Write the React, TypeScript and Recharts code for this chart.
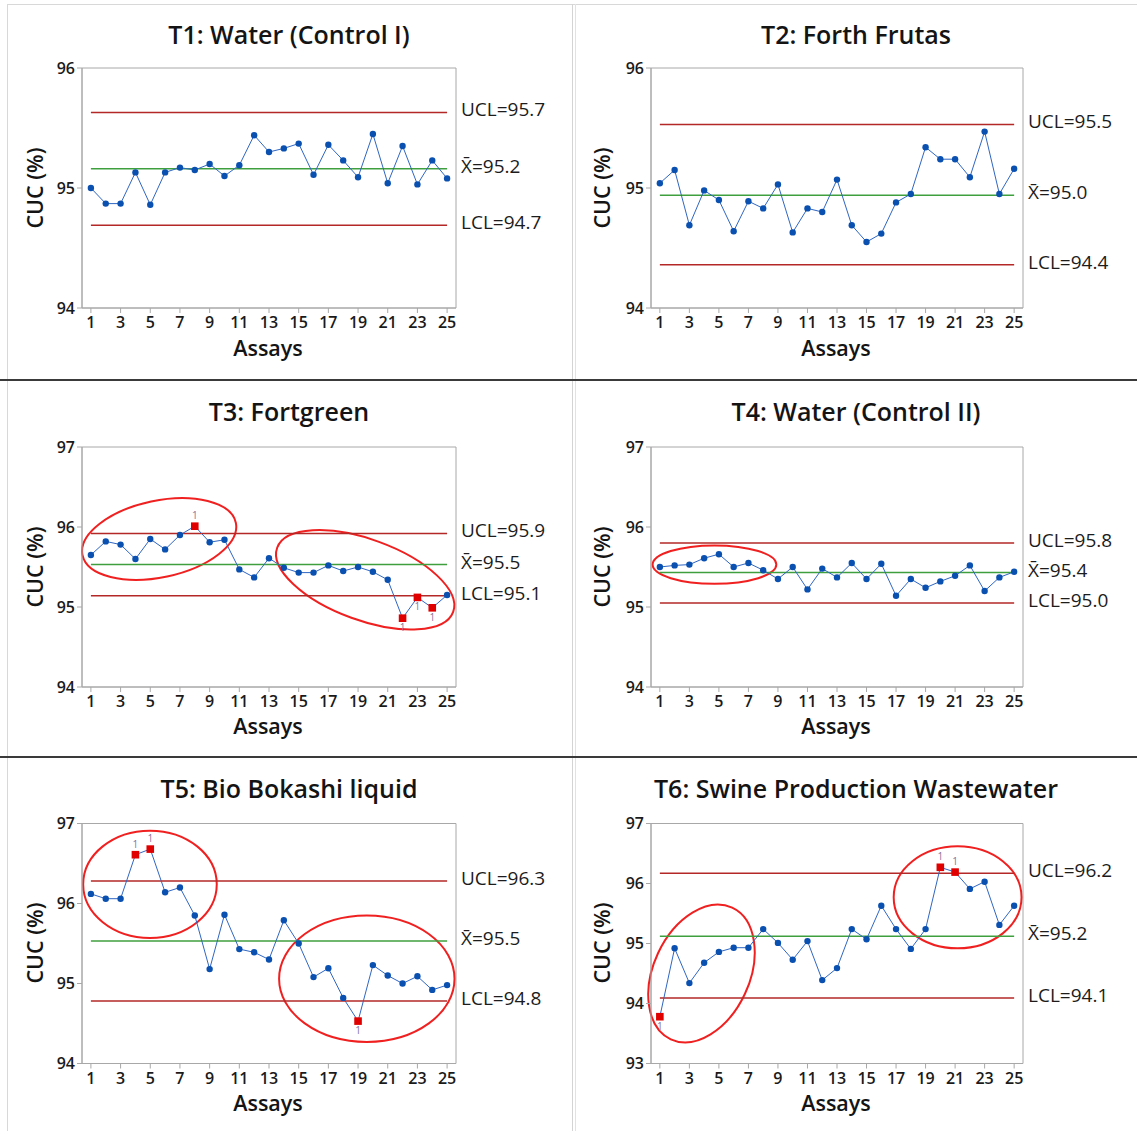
import React from 'react';
import { LineChart, Line, XAxis, YAxis, ReferenceLine, ReferenceArea } from 'recharts';

const assays = [1,2,3,4,5,6,7,8,9,10,11,12,13,14,15,16,17,18,19,20,21,22,23,24,25];
const xTicks = [1,3,5,7,9,11,13,15,17,19,21,23,25];

const t1Values = [95.00,94.87,94.87,95.13,94.86,95.13,95.17,95.15,95.20,95.10,95.19,95.44,95.30,95.33,95.37,95.11,95.36,95.23,95.09,95.45,95.04,95.35,95.03,95.23,95.08];
const t2Values = [95.04,95.15,94.69,94.98,94.90,94.64,94.89,94.83,95.03,94.63,94.83,94.80,95.07,94.69,94.55,94.62,94.88,94.95,95.34,95.24,95.24,95.09,95.47,94.95,95.16];
const t3Values = [95.65,95.82,95.78,95.60,95.85,95.72,95.90,96.01,95.81,95.84,95.47,95.37,95.61,95.49,95.43,95.43,95.52,95.45,95.50,95.44,95.34,94.86,95.12,94.99,95.15];
const t4Values = [95.50,95.52,95.53,95.61,95.66,95.50,95.55,95.46,95.35,95.50,95.22,95.48,95.37,95.55,95.35,95.54,95.14,95.35,95.24,95.32,95.39,95.52,95.20,95.37,95.44];
const t5Values = [96.12,96.06,96.06,96.61,96.68,96.14,96.20,95.85,95.18,95.86,95.43,95.39,95.30,95.79,95.50,95.08,95.19,94.82,94.53,95.23,95.10,95.00,95.09,94.92,94.98];
const t6Values = [93.78,94.92,94.34,94.68,94.86,94.93,94.93,95.24,95.01,94.73,95.04,94.39,94.59,95.24,95.07,95.63,95.24,94.91,95.24,96.27,96.19,95.91,96.03,95.31,95.63];

const t1Flags: number[] = [];
const t2Flags: number[] = [];
const t3Flags = [8,22,23,24];
const t4Flags: number[] = [];
const t5Flags = [4,5,19];
const t6Flags = [1,20,21];

// [UCL, mean, LCL] drawn positions and their printed labels
const t1Limits = [95.63, 95.16, 94.69];
const t2Limits = [95.53, 94.94, 94.36];
const t3Limits = [95.92, 95.53, 95.14];
const t4Limits = [95.80, 95.43, 95.05];
const t5Limits = [96.28, 95.53, 94.78];
const t6Limits = [96.17, 95.12, 94.09];
const t1LimitLabels = ['UCL=95.7', 'X̄=95.2', 'LCL=94.7'];
const t2LimitLabels = ['UCL=95.5', 'X̄=95.0', 'LCL=94.4'];
const t3LimitLabels = ['UCL=95.9', 'X̄=95.5', 'LCL=95.1'];
const t4LimitLabels = ['UCL=95.8', 'X̄=95.4', 'LCL=95.0'];
const t5LimitLabels = ['UCL=96.3', 'X̄=95.5', 'LCL=94.8'];
const t6LimitLabels = ['UCL=96.2', 'X̄=95.2', 'LCL=94.1'];

const titles = ['T1: Water (Control I)', 'T2: Forth Frutas', 'T3: Fortgreen', 'T4: Water (Control II)', 'T5: Bio Bokashi liquid', 'T6: Swine Production Wastewater'];
const yTicks12 = [94, 95, 96];
const yTicks345 = [94, 95, 96, 97];
const yTicks6 = [93, 94, 95, 96, 97];

// ellipses: center (assay, value), semi-axes in data units, rotation in degrees
const t3Ellipses = [{ cx: 5.6, cy: 95.85, rx: 5.28, ry: 0.48, angle: -12 }, { cx: 19.48, cy: 95.34, rx: 6.31, ry: 0.505, angle: 20 }];
const t4Ellipses = [{ cx: 4.7, cy: 95.53, rx: 4.19, ry: 0.24, angle: 0 }];
const t5Ellipses = [{ cx: 4.98, cy: 96.24, rx: 4.5, ry: 0.67, angle: 0 }, { cx: 19.59, cy: 95.06, rx: 5.91, ry: 0.79, angle: 0 }];
const t6Ellipses = [{ cx: 3.82, cy: 94.5, rx: 3.25, ry: 1.21, angle: 25 }, { cx: 21.17, cy: 95.77, rx: 4.33, ry: 0.85, angle: 0 }];

const FONT = '"Open Sans", "Noto Sans", sans-serif';
const BLUE = '#0a50b0';
const LINE_BLUE = '#2f66c2';
const RED_LIMIT = '#b52828';
const GREEN = '#3f9f3f';
const AXIS_GRAY = '#a8a8a8';

const RightLabel = (props: any) => {
  const { viewBox, text } = props;
  if (!viewBox) return null;
  const x = viewBox.x + viewBox.width + 5;
  const y = viewBox.y - 3;
  return (
    <text x={x} y={y} dominantBaseline="central" fill="#1c1c1c" fontSize={19} fontFamily={FONT}>
      {text}
    </text>
  );
};

const makeDot = (flags: number[], mean: number) => (p: any) => {
  const { cx, cy, payload, index } = p;
  if (cx == null || cy == null) return <g key={index} />;
  if (flags.includes(payload.assay)) {
    const above = payload.value > mean;
    return (
      <g key={index}>
        <rect x={cx - 3.8} y={cy - 3.8} width={7.6} height={7.6} fill="#e00000" />
        <text x={cx} y={above ? cy - 7 : cy + 13} textAnchor="middle" fontSize={10} fill="#86739a" fontFamily={FONT}>1</text>
      </g>
    );
  }
  return <circle key={index} cx={cx} cy={cy} r={3.2} fill={BLUE} />;
};

const EllipseShape = (angle: number) => (p: any) => {
  const { x, y, width, height } = p;
  if (x == null) return null;
  const cx = x + width / 2;
  const cy = y + height / 2;
  return (
    <ellipse cx={cx} cy={cy} rx={Math.abs(width) / 2} ry={Math.abs(height) / 2}
      transform={`rotate(${angle} ${cx} ${cy})`} fill="none" stroke="#f02020" strokeWidth={2} />
  );
};

type PanelProps = {
  left: number; top: number; width: number; height: number;
  mLeft: number; mRight: number; mTop: number; mBottom: number;
  values: number[]; flags: number[]; limits: number[]; limitLabels: string[];
  yDomain: [number, number]; yTicks: number[]; ellipses: any[];
};

const Panel = (pp: PanelProps) => {
  const data = assays.map((a, i) => ({ assay: a, value: pp.values[i] }));
  const colors = [RED_LIMIT, GREEN, RED_LIMIT];
  const tickStyle = { fill: '#1a1a1a', fontSize: 16, fontWeight: 600, fontFamily: FONT };
  return (
    <div style={{ position: 'absolute', left: pp.left, top: pp.top }}>
      <LineChart width={pp.width} height={pp.height} data={data}
        margin={{ top: pp.mTop, right: pp.mRight, bottom: pp.mBottom, left: pp.mLeft }}>
        <XAxis dataKey="assay" type="number" domain={[0.4, 25.6]} ticks={xTicks} interval={0}
          allowDataOverflow height={30} tickSize={5} tickMargin={4}
          axisLine={{ stroke: AXIS_GRAY }} tickLine={{ stroke: AXIS_GRAY }} tick={tickStyle} />
        <YAxis type="number" domain={pp.yDomain} ticks={pp.yTicks} interval={0} allowDataOverflow
          width={40} tickSize={5} tickMargin={2}
          axisLine={{ stroke: AXIS_GRAY }} tickLine={{ stroke: AXIS_GRAY }} tick={tickStyle} />
        <ReferenceArea x1={0.4} x2={25.6} y1={pp.yDomain[0]} y2={pp.yDomain[1]} fill="none" fillOpacity={0}
          stroke={AXIS_GRAY} strokeWidth={1} ifOverflow="visible" />
        {pp.limits.map((v, i) => (
          <ReferenceLine key={'seg' + i} segment={[{ x: 1, y: v }, { x: 25, y: v }]}
            stroke={colors[i]} strokeWidth={1.5} ifOverflow="visible" />
        ))}
        {pp.limits.map((v, i) => (
          <ReferenceLine key={'lab' + i} y={v} stroke="none" strokeOpacity={0}
            label={<RightLabel text={pp.limitLabels[i]} />} />
        ))}
        <Line dataKey="value" type="linear" stroke={LINE_BLUE} strokeWidth={1}
          dot={makeDot(pp.flags, pp.limits[1])} activeDot={false} isAnimationActive={false} />
        {pp.ellipses.map((e, i) => (
          <ReferenceArea key={'el' + i} x1={e.cx - e.rx} x2={e.cx + e.rx} y1={e.cy - e.ry} y2={e.cy + e.ry}
            ifOverflow="visible" shape={EllipseShape(e.angle)} />
        ))}
      </LineChart>
    </div>
  );
};

const Title = ({ text, cx, cy }: { text: string; cx: number; cy: number }) => (
  <div style={{ position: 'absolute', left: cx - 300, top: cy - 17, width: 600, height: 34, lineHeight: '34px',
    textAlign: 'center', fontFamily: FONT, fontWeight: 600, fontSize: 25, color: '#141414', whiteSpace: 'nowrap' }}>{text}</div>
);

const XLabel = ({ cx, cy }: { cx: number; cy: number }) => (
  <div style={{ position: 'absolute', left: cx - 100, top: cy - 15, width: 200, height: 30, lineHeight: '30px',
    textAlign: 'center', fontFamily: FONT, fontWeight: 600, fontSize: 21.5, color: '#141414' }}>Assays</div>
);

const YLabel = ({ cx, cy }: { cx: number; cy: number }) => (
  <div style={{ position: 'absolute', left: cx - 60, top: cy - 15, width: 120, height: 30, lineHeight: '30px',
    textAlign: 'center', fontFamily: FONT, fontWeight: 600, fontSize: 21.5, color: '#141414',
    transform: 'rotate(-90deg)', whiteSpace: 'nowrap' }}>CUC (%)</div>
);

export default function App() {
  const col1 = { left: 0, width: 573, mLeft: 42, mRight: 117 };
  const col2 = { left: 573, width: 564, mLeft: 38, mRight: 114 };
  const row1 = { top: 0, height: 380, mTop: 68, mBottom: 42 };
  const row2 = { top: 380, height: 377, mTop: 67, mBottom: 40 };
  const row3 = { top: 757, height: 374, mTop: 66.5, mBottom: 37.5 };
  return (
    <div style={{ position: 'absolute', left: 0, top: 0, width: 1137, height: 1131, background: '#ffffff', overflow: 'hidden' }}>
      {/* frame and dividers */}
      <div style={{ position: 'absolute', left: 7, top: 4, width: 1130, height: 1, background: '#d8d8d8' }} />
      <div style={{ position: 'absolute', left: 7, top: 4, width: 1, height: 1127, background: '#d8d8d8' }} />
      <div style={{ position: 'absolute', left: 572, top: 4, width: 1, height: 1127, background: '#d4d4d4' }} />
      <div style={{ position: 'absolute', left: 575, top: 4, width: 1, height: 1127, background: '#e2e2e2' }} />
      <div style={{ position: 'absolute', left: 0, top: 379, width: 1137, height: 2, background: '#3a3a3a' }} />
      <div style={{ position: 'absolute', left: 0, top: 756, width: 1137, height: 2, background: '#3a3a3a' }} />

      <Panel {...col1} {...row1} values={t1Values} flags={t1Flags} limits={t1Limits} limitLabels={t1LimitLabels}
        yDomain={[94, 96]} yTicks={yTicks12} ellipses={[]} />
      <Panel {...col2} {...row1} values={t2Values} flags={t2Flags} limits={t2Limits} limitLabels={t2LimitLabels}
        yDomain={[94, 96]} yTicks={yTicks12} ellipses={[]} />
      <Panel {...col1} {...row2} values={t3Values} flags={t3Flags} limits={t3Limits} limitLabels={t3LimitLabels}
        yDomain={[94, 97]} yTicks={yTicks345} ellipses={t3Ellipses} />
      <Panel {...col2} {...row2} values={t4Values} flags={t4Flags} limits={t4Limits} limitLabels={t4LimitLabels}
        yDomain={[94, 97]} yTicks={yTicks345} ellipses={t4Ellipses} />
      <Panel {...col1} {...row3} values={t5Values} flags={t5Flags} limits={t5Limits} limitLabels={t5LimitLabels}
        yDomain={[94, 97]} yTicks={yTicks345} ellipses={t5Ellipses} />
      <Panel {...col2} {...row3} values={t6Values} flags={t6Flags} limits={t6Limits} limitLabels={t6LimitLabels}
        yDomain={[93, 97]} yTicks={yTicks6} ellipses={t6Ellipses} />

      <Title text={titles[0]} cx={289} cy={34} />
      <Title text={titles[1]} cx={856} cy={34} />
      <Title text={titles[2]} cx={289} cy={411} />
      <Title text={titles[3]} cx={856} cy={411} />
      <Title text={titles[4]} cx={289} cy={788} />
      <Title text={titles[5]} cx={856} cy={788} />

      <XLabel cx={268} cy={348} />
      <XLabel cx={836} cy={348} />
      <XLabel cx={268} cy={726} />
      <XLabel cx={836} cy={726} />
      <XLabel cx={268} cy={1103} />
      <XLabel cx={836} cy={1103} />

      <YLabel cx={35} cy={188} />
      <YLabel cx={602} cy={188} />
      <YLabel cx={35} cy={567} />
      <YLabel cx={602} cy={567} />
      <YLabel cx={35} cy={943} />
      <YLabel cx={602} cy={943} />
    </div>
  );
}
